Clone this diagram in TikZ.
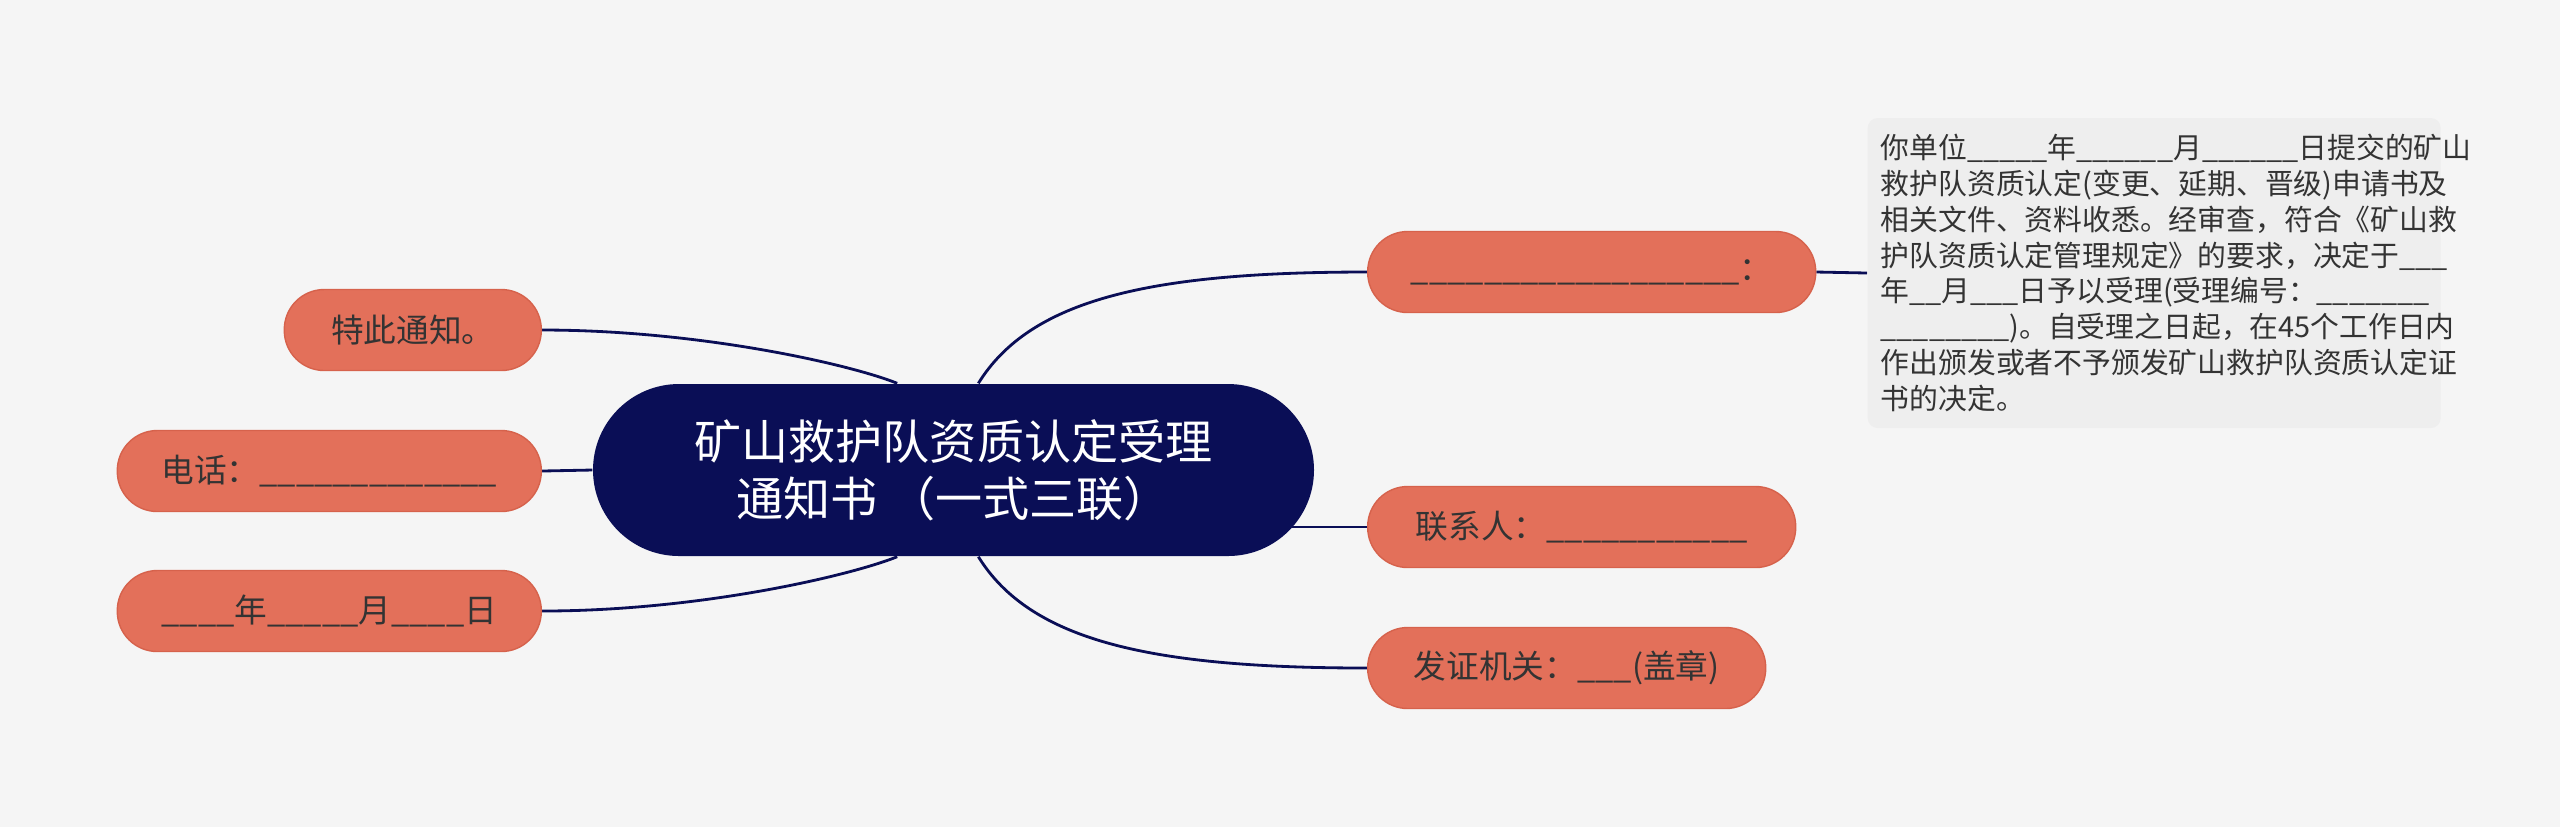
\documentclass[tikz,border=0pt]{standalone}
\usepackage{fontspec}
\setmainfont{Noto Sans CJK SC}
\usetikzlibrary{backgrounds}
\definecolor{bgc}{HTML}{F5F5F5}
\definecolor{navy}{HTML}{0A0E56}
\definecolor{leafc}{HTML}{E3705A}
\definecolor{leafd}{HTML}{D6624C}
\definecolor{notec}{HTML}{EEEEEE}
\definecolor{txtc}{HTML}{333333}
\newcommand\us[1]{\foreach\k in {1,...,#1}{\_}}

\begin{document}
\begin{tikzpicture}[
  link/.style={draw=navy,line width=0.8pt},
  leaf/.style={rounded corners=0.4cm,minimum height=0.81cm,fill=leafc,draw=leafd,line width=0.4pt,text=txtc,font=\fontsize{9.3pt}{11pt}\selectfont,inner xsep=0pt},
  hub/.style={rounded corners=0.86cm,minimum width=7.21cm,minimum height=1.72cm,fill=navy,text=white,align=center,font=\fontsize{13.4pt}{16.2pt}\selectfont}]
\useasboundingbox (0,0) rectangle (25.6,-8.27);
% centre
\node[hub] (mt) at (9.535,-4.70) {矿山救护队资质认定受理\\通知书 （一式三联）};
% left side
\node[leaf,minimum width=2.57cm,anchor=east] (lthx) at (5.42,-3.30) {特此通知。};
\node[leaf,minimum width=4.24cm,anchor=east] (ltel) at (5.42,-4.71) {电话：\us{13}};
\node[leaf,minimum width=4.24cm,anchor=east] (ldate) at (5.42,-6.11) {\us{4}年\us{5}月\us{4}日};
% right side
\node[leaf,minimum width=4.48cm,anchor=west] (rseal) at (13.67,-2.72) {\us{18}：};
\node[leaf,minimum width=4.28cm,anchor=west] (rcont) at (13.67,-5.27) {联系人：\us{11}};
\node[leaf,minimum width=3.98cm,anchor=west] (rorg) at (13.67,-6.68) {发证机关：\us{3}(盖章)};
\node[fill=notec,rounded corners=0.1cm,anchor=west,minimum width=5.73cm,minimum height=3.10cm,text width=5.47cm,inner xsep=0.13cm,align=left,text=txtc,font=\fontsize{8.2pt}{10.2pt}\selectfont] (rnote) at (18.67,-2.73) {你单位\us{5}年\us{6}月\us{6}日提交的矿山\\
救护队资质认定(变更、延期、晋级)申请书及\\
相关文件、资料收悉。经审查，符合《矿山救\\
护队资质认定管理规定》的要求，决定于\us{3}\\
年\us{2}月\us{3}日予以受理(受理编号：\us{7}\\
\us{8})。自受理之日起，在45个工作日内\\
作出颁发或者不予颁发矿山救护队资质认定证\\
书的决定。};
\begin{pgfonlayer}{background}
\fill[bgc] (0,0) rectangle (25.6,-8.27);
\draw[link] (mt.123) .. controls +(-0.47,0.19) and +(1.57,0) .. (lthx.east);
\draw[link] (mt.west) -- (ltel.east);
\draw[link] (mt.237) .. controls +(-0.47,-0.19) and +(1.57,0) .. (ldate.east);
\draw[link] (mt.74) .. controls +(0.52,0.84) and +(-2.17,0) .. (rseal.west);
\draw[link] (rcont.west) -- (rcont.west -| mt.center);
\draw[link] (mt.286) .. controls +(0.52,-0.84) and +(-2.17,0) .. (rorg.west);
\draw[link] (rseal.east) -- (rnote.west);
\end{pgfonlayer}
\end{tikzpicture}
\end{document}
